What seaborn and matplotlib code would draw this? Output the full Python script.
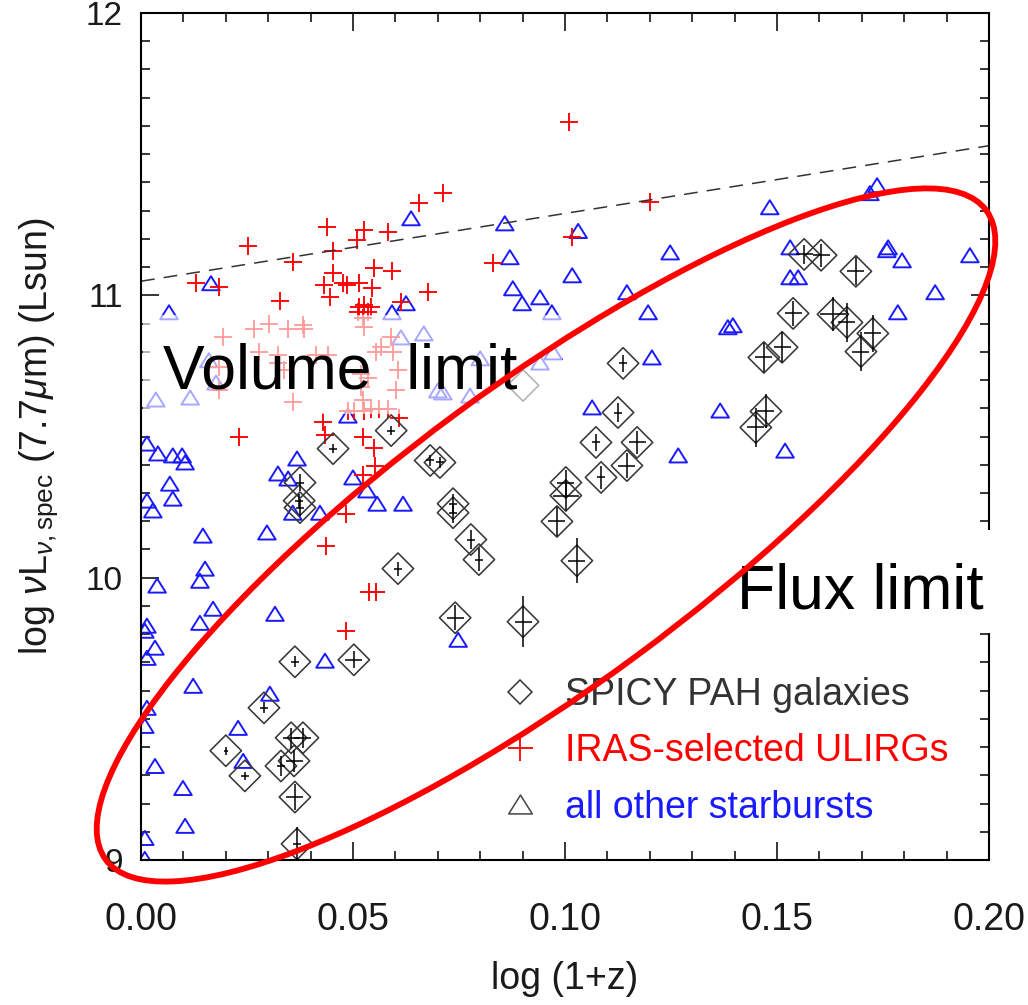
import numpy as np
import pandas as pd
import matplotlib
matplotlib.use("Agg")
import matplotlib.pyplot as plt
import seaborn as sns
from matplotlib.patches import Ellipse, Rectangle
from matplotlib.lines import Line2D
from matplotlib.path import Path

# ---------------- data ----------------
# all other starbursts (blue open triangles)
tri_x = [0.0637, 0.0858, 0.1031, 0.0165, 0.0066, 0.0592, 0.0625, 0.0870, 0.1017, 0.1248,
         0.0877, 0.0899, 0.0941, 0.0969, 0.1146, 0.1196, 0.1384, 0.1205, 0.1064, 0.1366,
         0.1267, 0.1483, 0.1736, 0.1719, 0.1531, 0.1759, 0.1762, 0.1795, 0.1955, 0.1531,
         0.1550, 0.1873, 0.1785, 0.1396, 0.1519, 0.0014, 0.0040, 0.0075, 0.0097, 0.0104,
         0.0068, 0.0075, 0.0014, 0.0028, 0.0146, 0.0368, 0.0323, 0.0347, 0.0358, 0.0422,
         0.0500, 0.0533, 0.0557, 0.0618, 0.0297, 0.0151, 0.0139, 0.0038, 0.0170, 0.0139,
         0.0316, 0.0014, 0.0009, 0.0033, 0.0014, 0.0123, 0.0434, 0.0748, 0.0304, 0.0014,
         0.0009, 0.0229, 0.0241, 0.0033, 0.0099, 0.0104, 0.0009, 0.0009,
         0.0667, 0.0613, 0.0035, 0.0116, 0.0160, 0.0177, 0.0488, 0.0700, 0.0800, 0.0941,
         0.0972, 0.0712, 0.0776]
tri_y = [11.273, 11.255, 11.228, 11.043, 10.940, 10.940, 10.972, 11.135, 11.071, 11.152,
         11.025, 10.972, 10.993, 10.940, 11.011, 10.940, 10.887, 10.780, 10.603, 10.592,
         10.433, 11.312, 11.390, 11.362, 11.170, 11.160, 11.170, 11.124, 11.142, 11.064,
         11.064, 11.011, 10.940, 10.894, 10.450, 10.475, 10.440, 10.433, 10.433, 10.408,
         10.333, 10.280, 10.273, 10.238, 10.149, 10.422, 10.369, 10.351, 10.230, 10.230,
         10.355, 10.309, 10.262, 10.262, 10.160, 10.032, 9.989, 9.972, 9.890, 9.840,
         9.872, 9.830, 9.812, 9.752, 9.716, 9.617, 9.706, 9.780, 9.589, 9.539,
         9.475, 9.468, 9.351, 9.333, 9.255, 9.121, 9.078, 9.004,
         10.865, 10.851, 10.631, 10.638, 10.770, 10.691, 10.574, 10.663, 10.777, 10.762,
         10.798, 10.656, 10.645]

# IRAS-selected ULIRGs (red plus signs)
ulirg_x = [0.1010, 0.0712, 0.0656, 0.0439, 0.0526, 0.0509, 0.0583, 0.0252, 0.0453, 0.0358,
           0.0130, 0.0184, 0.0453, 0.0550, 0.0592, 0.0432, 0.0476, 0.0486, 0.0514, 0.0545,
           0.0446, 0.0328, 0.0677, 0.0514, 0.0526, 0.0542, 0.0512, 0.0535, 0.0613, 0.1200,
           0.1017, 0.0830, 0.0429, 0.0231, 0.0434, 0.0524, 0.0550, 0.0608, 0.0552, 0.0524,
           0.0484, 0.0436, 0.0538, 0.0554, 0.0484,
           0.0193, 0.0267, 0.0302, 0.0347, 0.0382, 0.0384, 0.0278, 0.0323, 0.0323, 0.0413,
           0.0441, 0.0337, 0.0184, 0.0184, 0.0358, 0.0554, 0.0566, 0.0590, 0.0594, 0.0606,
           0.0601, 0.0519, 0.0535, 0.0519, 0.0524, 0.0488, 0.0502, 0.0526, 0.0542, 0.0561,
           0.0583, 0.0524, 0.0526]
ulirg_y = [11.613, 11.362, 11.326, 11.241, 11.230, 11.195, 11.223, 11.174, 11.156, 11.117,
           11.043, 11.028, 11.078, 11.096, 11.085, 11.035, 11.043, 11.035, 11.043, 11.025,
           10.993, 10.979, 11.011, 10.957, 10.965, 10.957, 10.940, 10.940, 10.975, 11.330,
           11.206, 11.113, 10.553, 10.500, 10.504, 10.500, 10.461, 10.567, 10.395, 10.362,
           10.227, 10.113, 9.950, 9.950, 9.812,
           10.851, 10.879, 10.897, 10.879, 10.894, 10.879, 10.798, 10.787, 10.759, 10.787,
           10.787, 10.734, 10.745, 10.663, 10.621, 10.798, 10.816, 10.851, 10.798, 10.734,
           10.663, 10.723, 10.706, 10.674, 10.628, 10.592, 10.592, 10.592, 10.599, 10.599,
           10.599, 10.918, 10.887]

# SPICY PAH galaxies (open diamonds with error bars)
pah_x = [0.1564, 0.1604, 0.1686, 0.1538, 0.1632, 0.1665, 0.1726, 0.1698, 0.1512, 0.1469,
         0.1474, 0.1450, 0.0682, 0.0705, 0.0736, 0.0736, 0.0778, 0.0797, 0.1002, 0.1002,
         0.1085, 0.1146, 0.0981, 0.1028, 0.0741, 0.0901, 0.0375, 0.0373, 0.0375, 0.0606,
         0.0363, 0.0502, 0.0290, 0.0200, 0.0245, 0.0354, 0.0382, 0.0330, 0.0361, 0.0363,
         0.0368, 0.0590, 0.0453, 0.0901, 0.1137, 0.1125, 0.1073, 0.1170]
pah_y = [11.145, 11.142, 11.085, 10.936, 10.933, 10.904, 10.865, 10.801, 10.816, 10.780,
         10.589, 10.532, 10.415, 10.408, 10.262, 10.230, 10.135, 10.064, 10.337, 10.291,
         10.355, 10.397, 10.199, 10.060, 9.858, 9.844, 10.337, 10.273, 10.248, 10.032,
         9.702, 9.709, 9.539, 9.387, 9.298, 9.433, 9.433, 9.333, 9.351, 9.223,
         9.057, 10.521, 10.457, 10.681, 10.759, 10.585, 10.479, 10.479]
pah_yerr = [0.033, 0.040, 0.050, 0.045, 0.060, 0.070, 0.065, 0.070, 0.053, 0.050,
            0.060, 0.068, 0.020, 0.020, 0.035, 0.035, 0.035, 0.040, 0.045, 0.050,
            0.040, 0.045, 0.050, 0.080, 0.045, 0.090, 0.030, 0.025, 0.030, 0.025,
            0.020, 0.030, 0.020, 0.015, 0.015, 0.035, 0.035, 0.035, 0.040, 0.045,
            0.060, 0.015, 0.015, 0.000, 0.030, 0.035, 0.030, 0.040]
pah_xerr = [0.002, 0.002, 0.002, 0.002, 0.003, 0.002, 0.002, 0.002, 0.002, 0.002,
            0.002, 0.002, 0.001, 0.001, 0.001, 0.001, 0.001, 0.001, 0.002, 0.003,
            0.001, 0.002, 0.002, 0.002, 0.002, 0.002, 0.001, 0.001, 0.001, 0.001,
            0.001, 0.002, 0.001, 0.0005, 0.001, 0.002, 0.002, 0.001, 0.002, 0.002,
            0.001, 0.001, 0.001, 0.000, 0.001, 0.001, 0.001, 0.002]

# dashed limit line
lim_x = [0.0, 0.2]
lim_y = [11.05, 11.53]

legend_labels = ["SPICY PAH galaxies", "IRAS-selected ULIRGs", "all other starbursts"]
x_ticks = [0.00, 0.05, 0.10, 0.15, 0.20]
x_ticklabels = ["0.00", "0.05", "0.10", "0.15", "0.20"]
y_ticks = [9, 10, 11, 12]
y_ticklabels = ["9", "10", "11", "12"]

# ---------------- style ----------------
sns.set_style("ticks")
plt.rcParams["font.family"] = ["Liberation Sans", "DejaVu Sans"]
plt.rcParams["mathtext.fontset"] = "custom"
plt.rcParams["mathtext.rm"] = "Liberation Sans"
plt.rcParams["mathtext.it"] = "Liberation Sans:italic"
plt.rcParams["mathtext.bf"] = "Liberation Sans:bold"

W, H = 1028, 1005
fig = plt.figure(figsize=(W / 100, H / 100), dpi=100)
fig.patch.set_facecolor("white")
ax = fig.add_axes([141 / W, (H - 860) / H, 848 / W, 847 / H])

tri_marker = Path([(-1, -0.8), (1, -0.8), (0, 0.8), (-1, -0.8)], closed=True)

df_tri = pd.DataFrame({"x": tri_x, "y": tri_y})
df_ul = pd.DataFrame({"x": ulirg_x, "y": ulirg_y})
df_pah = pd.DataFrame({"x": pah_x, "y": pah_y, "yerr": pah_yerr, "xerr": pah_xerr})

sns.scatterplot(data=df_tri, x="x", y="y", marker=tri_marker, s=160,
                facecolor="none", edgecolor="#1a1aff", linewidth=1.4, ax=ax, zorder=1.0)
sns.scatterplot(data=df_ul, x="x", y="y", marker="+", s=155,
                color="#ff0000", linewidth=1.35, ax=ax, zorder=1.1)
sns.scatterplot(data=df_pah, x="x", y="y", marker="D", s=255,
                facecolor="none", edgecolor="#383838", linewidth=1.15, ax=ax, zorder=1.3)
ax.errorbar(df_pah["x"], df_pah["y"], yerr=df_pah["yerr"], xerr=df_pah["xerr"],
            fmt="none", ecolor="black", elinewidth=1.1, capsize=0, zorder=1.4)

ax.plot(lim_x, lim_y, color="#333333", lw=1.1, linestyle=(0, (9, 6)), zorder=1.5)

ax.set_xlim(0, 0.2)
ax.set_ylim(9, 12)
ax.set_xticks(x_ticks)
ax.set_xticklabels(x_ticklabels)
ax.set_yticks(y_ticks)
ax.set_yticklabels(y_ticklabels)
ax.set_xticks(np.arange(0, 0.2001, 0.01), minor=True)
ax.set_yticks(np.arange(9, 12.001, 0.1), minor=True)
ax.tick_params(which="both", direction="in", top=True, right=True, colors="black",
               labelcolor="#1a1a1a")
ax.tick_params(which="major", length=13, width=1.1)
ax.tick_params(which="minor", length=6.5, width=1.1)
ax.tick_params(axis="x", which="major", labelsize=27, pad=30)
ax.tick_params(axis="y", which="major", labelsize=24, pad=13)
for sp in ax.spines.values():
    sp.set_linewidth(1.5)
    sp.set_color("black")

ax.set_xlabel("log (1+z)", fontsize=27, labelpad=17, color="#1a1a1a")
ax.set_ylabel(r"log $\nu$L$_{\nu,\mathrm{spec}}$ (7.7$\mu$m) (Lsun)", fontsize=27,
              labelpad=19, color="#1a1a1a")

# legend
handles = [
    Line2D([], [], ls="none", marker="D", ms=12, mfc="none", mec="#333333", mew=1.1),
    Line2D([], [], ls="none", marker="+", ms=18, mec="#ff0000", mew=1.3),
    Line2D([], [], ls="none", marker=tri_marker, ms=17, mfc="none", mec="#444444", mew=1.1),
]
leg = ax.legend(handles, legend_labels, loc="upper left", bbox_to_anchor=(0.4252, 0.216),
                frameon=False, fontsize=27, handlelength=1.0, handletextpad=0.69,
                labelspacing=0.54, borderpad=0, borderaxespad=0,
                labelcolor=["#333333", "#ff0000", "#1a1aff"])
leg.set_zorder(3)

# translucent box behind "Volume limit"
ax.add_patch(Rectangle((0.002, (860 - 414) / 847), 419 / 848, 99 / 847,
                       transform=ax.transAxes, fc="white", ec="none", alpha=0.62,
                       zorder=2.2, clip_on=False))

# overlay in pixel coordinates for annotations
ov = fig.add_axes([0, 0, 1, 1], zorder=5)
ov.set_xlim(0, W)
ov.set_ylim(0, H)
ov.axis("off")
ov.patch.set_alpha(0)
ov.text(163, H - 388, "Volume  limit", fontsize=45, ha="left", va="baseline",
        color="black", zorder=2)
ov.add_patch(Rectangle((722, H - 633), 300, 103, fc="white", ec="none", zorder=1))
ov.text(737, H - 608, "Flux limit", fontsize=45, ha="left", va="baseline",
        color="black", zorder=2)
ov.add_patch(Ellipse((546, 470), 1094, 302, angle=36.4, fill=False, ec="#ff0000",
                     lw=4.2, zorder=3))

fig.savefig("out.png", dpi=100, facecolor="white")
